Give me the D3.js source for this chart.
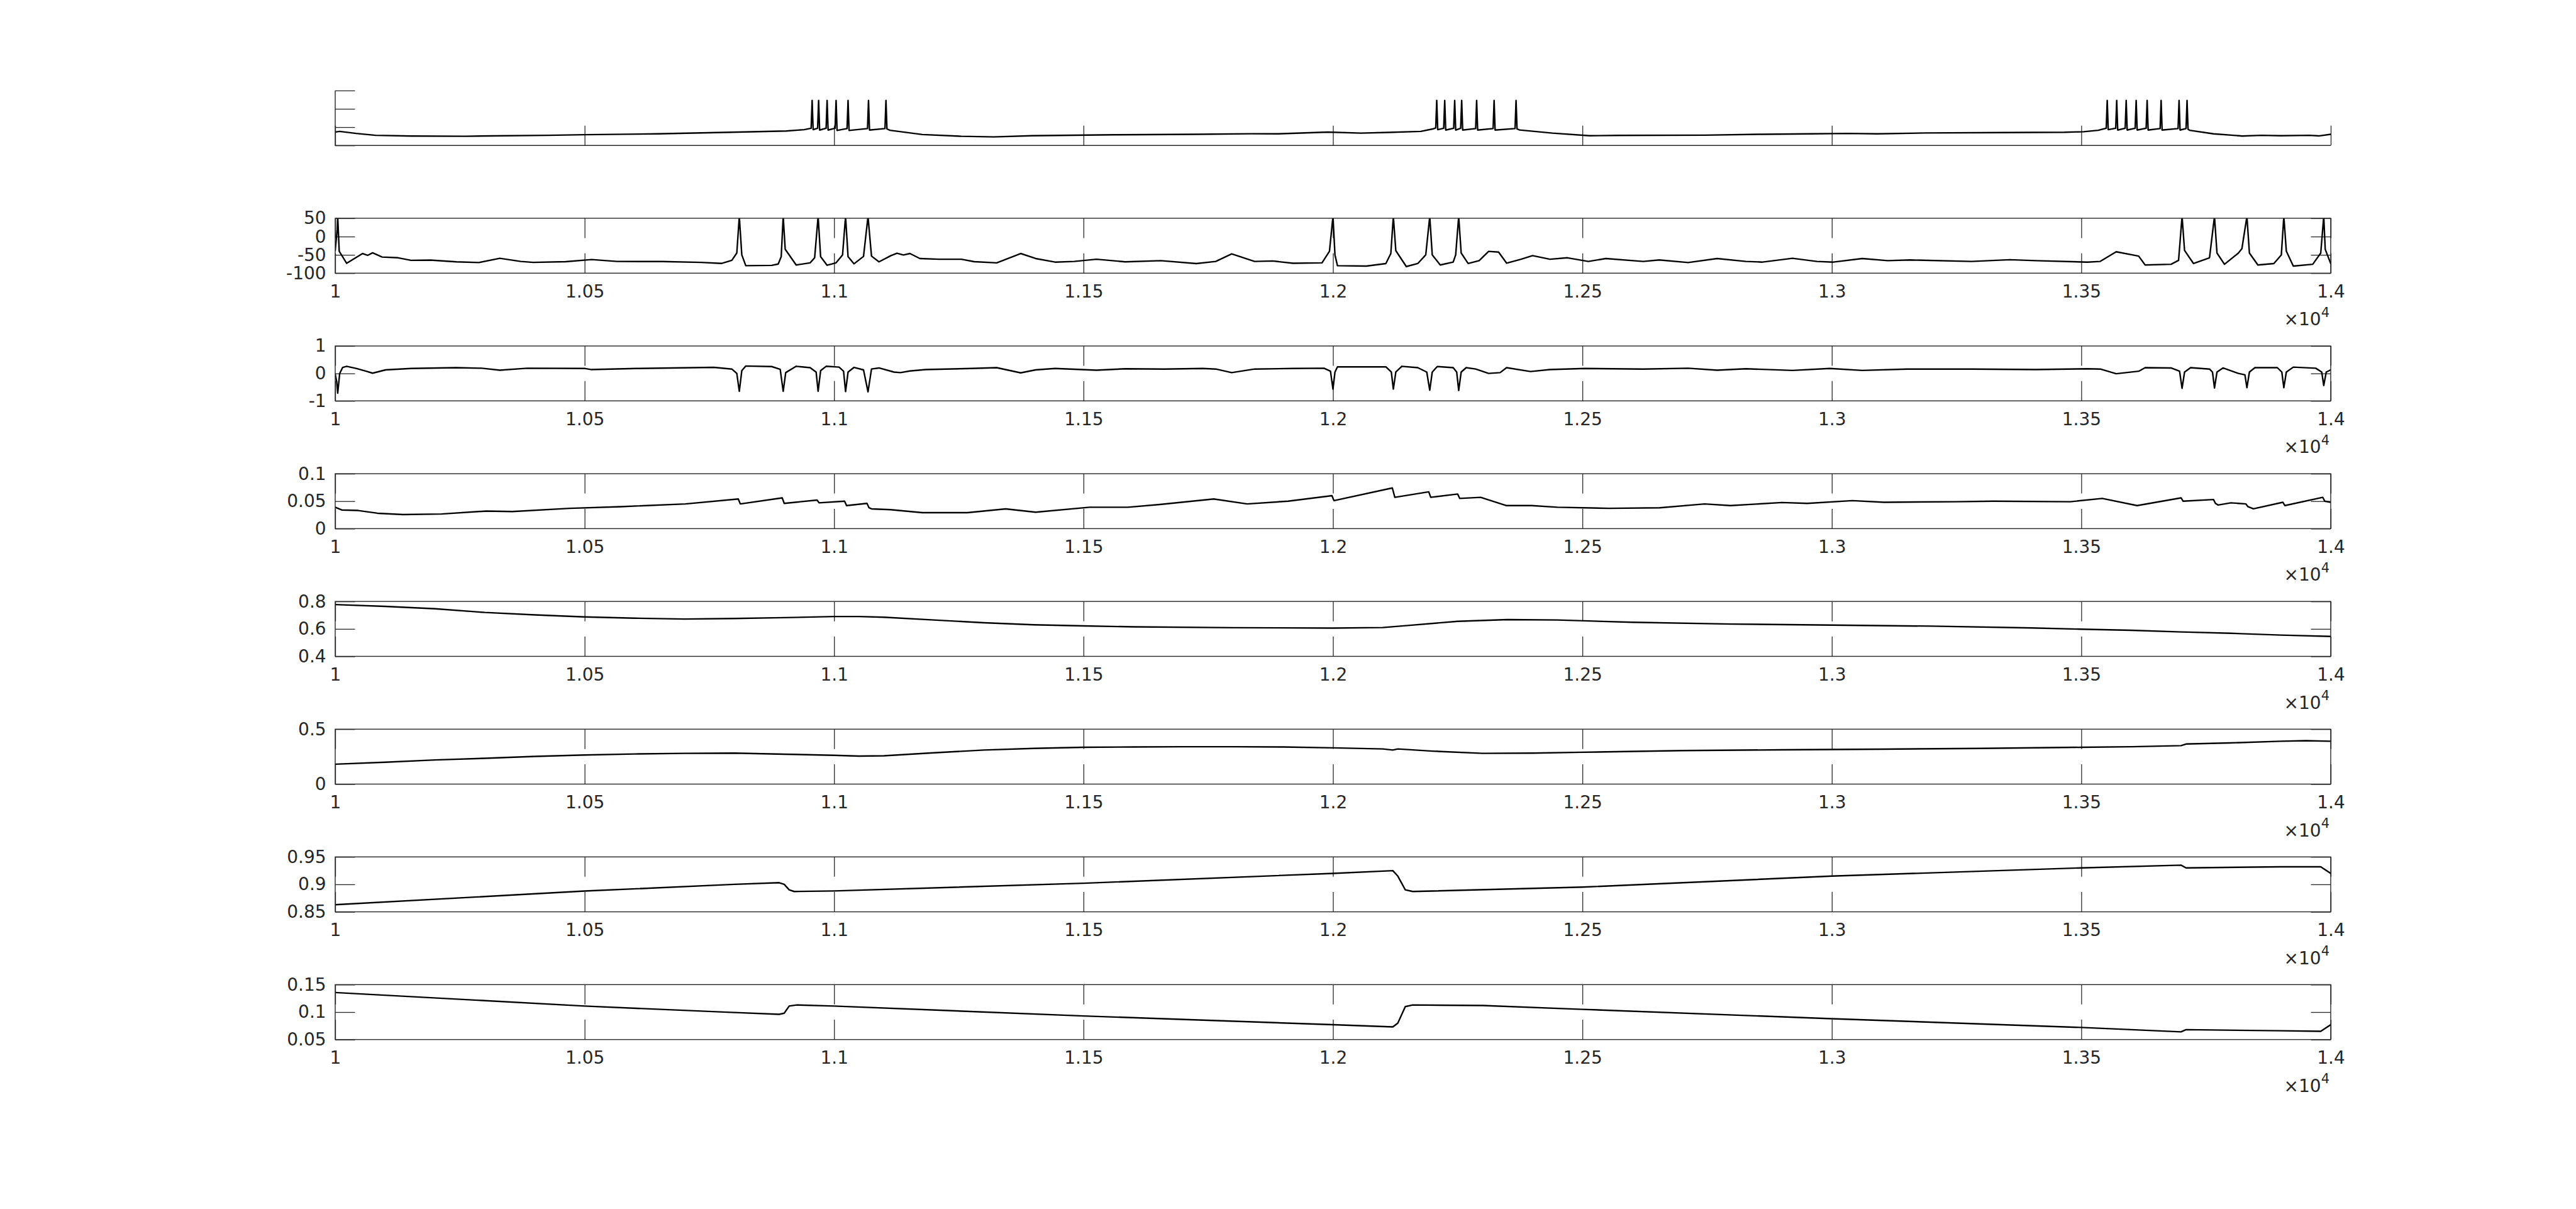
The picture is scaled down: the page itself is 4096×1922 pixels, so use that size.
<!DOCTYPE html>
<html>
<head>
<meta charset="utf-8">
<script src="https://cdn.jsdelivr.net/npm/d3@7"></script>
<style>
html,body{margin:0;padding:0;background:#ffffff;}
svg{display:block;}
</style>
</head>
<body>
<svg id="chart" width="4096" height="1922"></svg>
<script>
// ---------------- DATA ----------------
const timeDomain = [10000, 14000];
const xTicks = [10000, 10500, 11000, 11500, 12000, 12500, 13000, 13500, 14000];
const xExponentLabel = "4";

const yDomains = [[-100, 50], [-100, 50], [-1, 1], [0, 0.1], [0.4, 0.8], [0, 0.5], [0.85, 0.95], [0.05, 0.15]];
const yTicks = [
  [-100, -50, 0, 50], [-100, -50, 0, 50], [-1, 0, 1], [0, 0.05, 0.1],
  [0.4, 0.6, 0.8], [0, 0.5], [0.85, 0.9, 0.95], [0.05, 0.1, 0.15]
];
const yTickLabels = [
  null, ["-100", "-50", "0", "50"], ["-1", "0", "1"], ["0", "0.05", "0.1"],
  ["0.4", "0.6", "0.8"], ["0", "0.5"], ["0.85", "0.9", "0.95"], ["0.05", "0.1", "0.15"]
];

// panel 1: membrane potential with bursts
const series1 = [
  [10000,-63.3],[10009,-61.7],[10042,-67.2],[10081,-72.3],[10152,-74.2],[10262,-75],[10317,-73.8],[10426,-72.3],[10500,-70.7],[10646,-68.4],[10793,-64],[10904,-60.5],[10940,-57],[10954,-53],
  [10956,23],[10958,-57],[10967,-53],[10969,23],[10971,-58],[10984,-53],[10986,23],[10988,-58],[11002,-53],[11004,23],[11006,-59],[11026,-54],[11028,23],[11030,-59],[11067,-54],[11069,23],[11071,-58],[11102,-54],[11104,23],[11106,-55],
  [11112,-58.6],[11177,-70.3],[11255,-75],[11320,-76.6],[11397,-73.4],[11562,-71],[11726,-69.5],[11836,-68],[11890,-68.4],[11990,-63.7],[12056,-66.4],[12111,-64.4],[12176,-61.7],[12200,-55],[12206,-52],
  [12208,23],[12210,-57],[12222,-53],[12224,23],[12226,-58],[12242,-53],[12244,23],[12246,-58],[12256,-53],[12258,23],[12260,-58],[12286,-54],[12288,23],[12290,-58],[12321,-54],[12323,23],[12325,-58],[12365,-54],[12367,23],[12369,-55],
  [12374,-57.8],[12440,-66.4],[12514,-73.4],[12572,-72.7],[12745,-71.9],[12860,-69.5],[12957,-68.4],[13034,-67.2],[13091,-68.4],[13188,-66],[13342,-64.8],[13466,-64],[13505,-62.5],[13534,-58.6],[13550,-53],
  [13552,23],[13554,-57],[13569,-53],[13571,23],[13573,-58],[13588,-53],[13590,23],[13592,-58],[13608,-53],[13610,23],[13612,-58],[13630,-53],[13632,23],[13634,-58],[13658,-54],[13660,23],[13662,-58],[13694,-54],[13696,23],[13698,-58],[13710,-54],[13712,23],[13714,-56],
  [13717,-58.6],[13765,-68.4],[13823,-74.2],[13861,-72.3],[13900,-73.4],[13957,-72.3],[13976,-74],[14000,-69.5]
];

// panel 2: second membrane potential, single spikes
const series2 = [
  [10000,-38.5],[10004,20],[10005,55],[10008,-40],[10023,-73],[10055,-46.3],[10065,-51.4],[10075,-44.4],[10094,-56],[10126,-58],[10152,-65],[10191,-64.3],[10243,-69],[10288,-71],[10330,-59.3],[10372,-67.9],[10397,-70.6],[10462,-68.7],[10514,-62.8],[10565,-67.9],[10655,-68.3],[10733,-70.6],[10774,-73.4],[10795,-65],[10805,-45],
  [10810,55],[10815,-50],[10823,-79.6],[10875,-78.8],[10888,-75],[10894,-55],
  [10898,55],[10902,-34.6],[10924,-77.7],[10952,-71.8],[10961,-58],
  [10968,55],[10973,-55],[10986,-78.4],[11004,-71.8],[11017,-50],
  [11023,55],[11028,-55],[11040,-74.5],[11059,-54.2],
  [11068,55],[11075,-53.4],[11090,-69],[11114,-52.2],[11126,-45.5],[11139,-50.3],[11152,-46.3],[11172,-60],[11210,-62],[11255,-62],[11281,-68.7],[11326,-71.8],[11374,-46.3],[11404,-60],[11443,-69.8],[11481,-67.9],[11526,-62],[11584,-69],[11655,-65.9],[11726,-73.7],[11765,-67.9],[11797,-47.5],[11843,-67.9],[11879,-66.7],[11920,-73],[11978,-71.8],[11993,-40],
  [12000,55],[12004,-50],[12009,-79.6],[12067,-80.7],[12106,-73.7],[12116,-46.3],
  [12121,55],[12126,-38.5],[12147,-82],[12170,-73.7],[12186,-50],
  [12194,55],[12199,-50],[12215,-77.7],[12241,-69.8],[12246,-50],
  [12252,55],[12257,-45],[12271,-73.7],[12293,-65.9],[12312,-40.5],[12332,-42.4],[12348,-72.6],[12377,-62],[12400,-52.2],[12435,-62],[12470,-58],[12512,-67.9],[12547,-60],[12622,-67.9],[12654,-64],[12712,-71],[12770,-60],[12828,-67.9],[12861,-69.8],[12921,-59.3],[12970,-67.9],[13003,-69.8],[13061,-60],[13112,-65.9],[13157,-64],[13280,-67.9],[13357,-63.3],[13409,-65.9],[13512,-69.8],[13538,-67.9],[13570,-41.6],[13615,-53.4],[13628,-77.7],[13680,-75.7],[13695,-65],
  [13702,55],[13707,-38],[13725,-73.7],[13757,-58],
  [13767,55],[13772,-45],[13787,-75.7],[13815,-45],[13822,-33],
  [13832,55],[13837,-45],[13854,-77.7],[13886,-73.7],[13901,-50],
  [13906,55],[13911,-40],[13925,-80.7],[13964,-75.7],[13980,-45],
  [13986,55],[13989,-35],[14000,-73.7]
];

// panel 3: derivative-like trace with downward spikes
const series3 = [
  [10000,-0.02],[10003,-0.3],[10005,-0.72],[10009,0.0],[10015,0.22],[10023,0.26],[10043,0.18],[10062,0.08],[10075,0.01],[10101,0.13],[10152,0.18],[10243,0.21],[10294,0.19],[10330,0.12],[10385,0.19],[10501,0.18],[10514,0.14],[10604,0.18],[10759,0.22],[10795,0.16],[10805,0.0],
  [10810,-0.65],[10815,0.1],[10823,0.27],[10875,0.25],[10892,0.15],
  [10898,-0.65],[10903,0.03],[10924,0.26],[10952,0.21],[10964,0.05],
  [10968,-0.65],[10973,0.1],[10984,0.26],[11010,0.23],[11019,0.08],
  [11023,-0.66],[11028,0.05],[11040,0.22],[11059,0.13],
  [11068,-0.67],[11075,0.16],[11090,0.2],[11120,0.05],[11133,0.03],[11152,0.09],[11184,0.14],[11275,0.18],[11326,0.21],[11374,0.02],[11404,0.13],[11443,0.18],[11526,0.12],[11584,0.17],[11662,0.16],[11739,0.18],[11765,0.16],[11797,0.03],[11843,0.16],[11920,0.18],[11982,0.19],[11995,0.08],
  [12000,-0.57],[12004,0.05],[12009,0.24],[12106,0.24],[12117,0.05],
  [12121,-0.57],[12126,0.05],[12138,0.26],[12170,0.21],[12188,0.05],
  [12194,-0.61],[12199,0.05],[12209,0.25],[12241,0.21],[12248,0.05],
  [12252,-0.62],[12257,0.05],[12267,0.21],[12286,0.16],[12312,0.0],[12335,0.03],[12348,0.21],[12396,0.07],[12435,0.14],[12506,0.18],[12622,0.16],[12712,0.19],[12770,0.12],[12828,0.17],[12921,0.11],[12996,0.18],[13061,0.11],[13151,0.16],[13280,0.16],[13409,0.14],[13512,0.17],[13538,0.16],[13570,-0.01],[13615,0.08],[13628,0.21],[13680,0.2],[13697,0.08],
  [13702,-0.54],[13707,0.05],[13719,0.21],[13757,0.16],[13763,0.05],
  [13767,-0.53],[13772,0.05],[13784,0.2],[13815,0.0],[13828,-0.05],
  [13832,-0.52],[13837,0.05],[13848,0.21],[13893,0.21],[13902,0.05],
  [13906,-0.52],[13911,0.05],[13925,0.23],[13970,0.19],[13982,0.05],
  [13986,-0.44],[13991,0.05],[14000,0.13]
];

// panel 4
const series4 = [
  [10000,0.039],[10013,0.034],[10046,0.033],[10085,0.028],[10136,0.0256],[10213,0.0266],[10303,0.032],[10355,0.031],[10470,0.037],[10573,0.040],[10702,0.045],[10808,0.054],[10812,0.045],
  [10896,0.056],[10900,0.046],[10966,0.052],[10970,0.047],[11021,0.050],[11025,0.042],[11066,0.046],[11070,0.038],[11075,0.036],[11113,0.0345],[11177,0.029],[11267,0.029],[11344,0.036],[11404,0.030],[11512,0.039],[11589,0.039],[11653,0.044],[11761,0.054],[11828,0.045],[11910,0.050],[11998,0.060],[12002,0.051],
  [12119,0.074],[12124,0.057],[12192,0.067],[12196,0.057],[12250,0.063],[12254,0.055],[12296,0.057],[12347,0.042],[12398,0.042],[12450,0.039],[12553,0.037],[12655,0.038],[12745,0.045],[12797,0.042],[12900,0.0475],[12951,0.046],[13041,0.051],[13105,0.048],[13247,0.049],[13324,0.050],[13478,0.049],[13542,0.055],[13612,0.042],
  [13700,0.056],[13704,0.050],[13765,0.053],[13769,0.046],[13774,0.043],[13800,0.047],[13830,0.045],[13834,0.040],[13845,0.036],[13904,0.048],[13908,0.042],[13984,0.057],[13988,0.050],[14000,0.048]
];

// panel 5
const series5 = [
  [10000,0.777],[10100,0.764],[10200,0.747],[10300,0.72],[10400,0.702],[10500,0.687],[10600,0.678],[10700,0.672],[10800,0.676],[10900,0.682],[11000,0.69],[11050,0.69],[11100,0.685],[11200,0.665],[11300,0.645],[11400,0.63],[11500,0.622],[11600,0.615],[11800,0.609],[12000,0.606],[12100,0.61],[12150,0.625],[12250,0.655],[12350,0.668],[12450,0.665],[12600,0.648],[12800,0.635],[13000,0.628],[13200,0.62],[13400,0.607],[13500,0.598],[13600,0.59],[13700,0.578],[13800,0.568],[13900,0.555],[14000,0.545]
];

// panel 6
const series6 = [
  [10000,0.181],[10100,0.199],[10200,0.22],[10300,0.235],[10400,0.252],[10500,0.265],[10600,0.274],[10700,0.28],[10800,0.282],[10900,0.272],[11000,0.262],[11050,0.255],[11100,0.258],[11200,0.285],[11300,0.31],[11400,0.325],[11500,0.335],[11600,0.338],[11700,0.34],[11800,0.34],[11900,0.338],[12000,0.33],[12100,0.32],[12120,0.31],[12130,0.32],[12200,0.3],[12300,0.28],[12400,0.282],[12500,0.29],[12700,0.305],[12900,0.312],[13100,0.318],[13300,0.325],[13500,0.335],[13600,0.34],[13700,0.35],[13710,0.365],[13800,0.375],[13900,0.39],[13950,0.395],[14000,0.39]
];

// panel 7
const series7 = [
  [10000,0.863],[10500,0.8878],[10800,0.900],[10890,0.903],[10900,0.900],[10910,0.890],[10920,0.887],[11000,0.888],[11500,0.902],[12000,0.920],[12120,0.925],[12130,0.915],[12145,0.890],[12160,0.887],[12500,0.895],[13000,0.915],[13500,0.930],[13700,0.935],[13710,0.930],[13900,0.932],[13980,0.932],[14000,0.920]
];

// panel 8
const series8 = [
  [10000,0.1356],[10500,0.111],[10793,0.0995],[10890,0.096],[10900,0.098],[10910,0.111],[10925,0.113],[11000,0.111],[11500,0.093],[12000,0.077],[12120,0.073],[12130,0.080],[12145,0.110],[12160,0.113],[12300,0.112],[12500,0.105],[13000,0.088],[13500,0.072],[13700,0.064],[13710,0.068],[13900,0.066],[13980,0.065],[14000,0.077]
];

const allSeries = [series1, series2, series3, series4, series5, series6, series7, series8];

// ---------------- LAYOUT ----------------
const W = 4096, H = 1922;
const plotLeft = 533, plotRight = 3706;
const firstTop = 143.9, rowStep = 203.06, panelH = 87.3;
const tickLen = 31.5;
const axisColor = "#262626";
const fontFamily = "'DejaVu Sans', sans-serif";
const fontSize = 28;

const svg = d3.select("#chart");
svg.append("rect").attr("width", W).attr("height", H).attr("fill", "#ffffff");

const x = d3.scaleLinear().domain(timeDomain).range([plotLeft, plotRight]);
const fmtX = d => String(+(d / 1e4).toFixed(2));

const defs = svg.append("defs");

allSeries.forEach((data, i) => {
  const top = firstTop + i * rowStep;
  const y = d3.scaleLinear().domain(yDomains[i]).range([top + panelH, top]);
  const g = svg.append("g");
  const hasBox = i > 0;
  const labels = yTickLabels[i];

  defs.append("clipPath").attr("id", "clip" + i)
    .append("rect").attr("x", plotLeft).attr("y", top)
    .attr("width", plotRight - plotLeft).attr("height", panelH);

  // bottom axis
  const bottom = d3.axisBottom(x).tickValues(xTicks)
    .tickSizeInner(-tickLen).tickSizeOuter(0).tickPadding(18.6)
    .tickFormat(hasBox ? fmtX : () => "");
  const gb = g.append("g").attr("transform", `translate(0,${top + panelH})`).call(bottom);

  // left axis
  const left = d3.axisLeft(y).tickValues(yTicks[i])
    .tickSizeInner(-tickLen).tickSizeOuter(0).tickPadding(14.4)
    .tickFormat((d, k) => labels ? labels[k] : "");
  const gl = g.append("g").attr("transform", `translate(${plotLeft},0)`).call(left);

  const axesGroups = [gb, gl];
  if (hasBox) {
    const topAx = d3.axisTop(x).tickValues(xTicks).tickSizeInner(-tickLen).tickSizeOuter(0).tickFormat(() => "");
    const rightAx = d3.axisRight(y).tickValues(yTicks[i]).tickSizeInner(-tickLen).tickSizeOuter(0).tickFormat(() => "");
    axesGroups.push(g.append("g").attr("transform", `translate(0,${top})`).call(topAx));
    axesGroups.push(g.append("g").attr("transform", `translate(${plotRight},0)`).call(rightAx));
  }
  axesGroups.forEach(ag => {
    ag.select(".domain").remove();
    ag.selectAll(".tick line").attr("stroke", axisColor).attr("stroke-width", 1.3);
    ag.selectAll(".tick text").attr("fill", axisColor)
      .style("font-family", fontFamily).style("font-size", fontSize + "px");
  });

  // data line
  const line = d3.line().x(d => x(d[0])).y(d => y(d[1]));
  g.append("path").datum(data)
    .attr("clip-path", `url(#clip${i})`)
    .attr("fill", "none").attr("stroke", "#000000")
    .attr("stroke-width", 2.4).attr("stroke-linejoin", "round").attr("stroke-linecap", "round")
    .attr("d", line);

  // frame
  if (hasBox) {
    g.append("rect").attr("x", plotLeft).attr("y", top)
      .attr("width", plotRight - plotLeft).attr("height", panelH)
      .attr("fill", "none").attr("stroke", axisColor).attr("stroke-width", 1.4);
    // exponent label
    const t = g.append("text")
      .attr("x", plotRight - 2).attr("y", top + panelH + 83.1)
      .attr("text-anchor", "end").attr("fill", axisColor)
      .style("font-family", fontFamily).style("font-size", fontSize + "px");
    t.append("tspan").text("\u00d7");
    t.append("tspan").text("10");
    t.append("tspan").attr("dy", -13.5).style("font-size", (fontSize * 0.75) + "px").text(xExponentLabel);
  } else {
    g.append("path")
      .attr("d", `M${plotLeft},${top}V${top + panelH}H${plotRight}`)
      .attr("fill", "none").attr("stroke", axisColor).attr("stroke-width", 1.4);
  }
});
</script>
</body>
</html>
